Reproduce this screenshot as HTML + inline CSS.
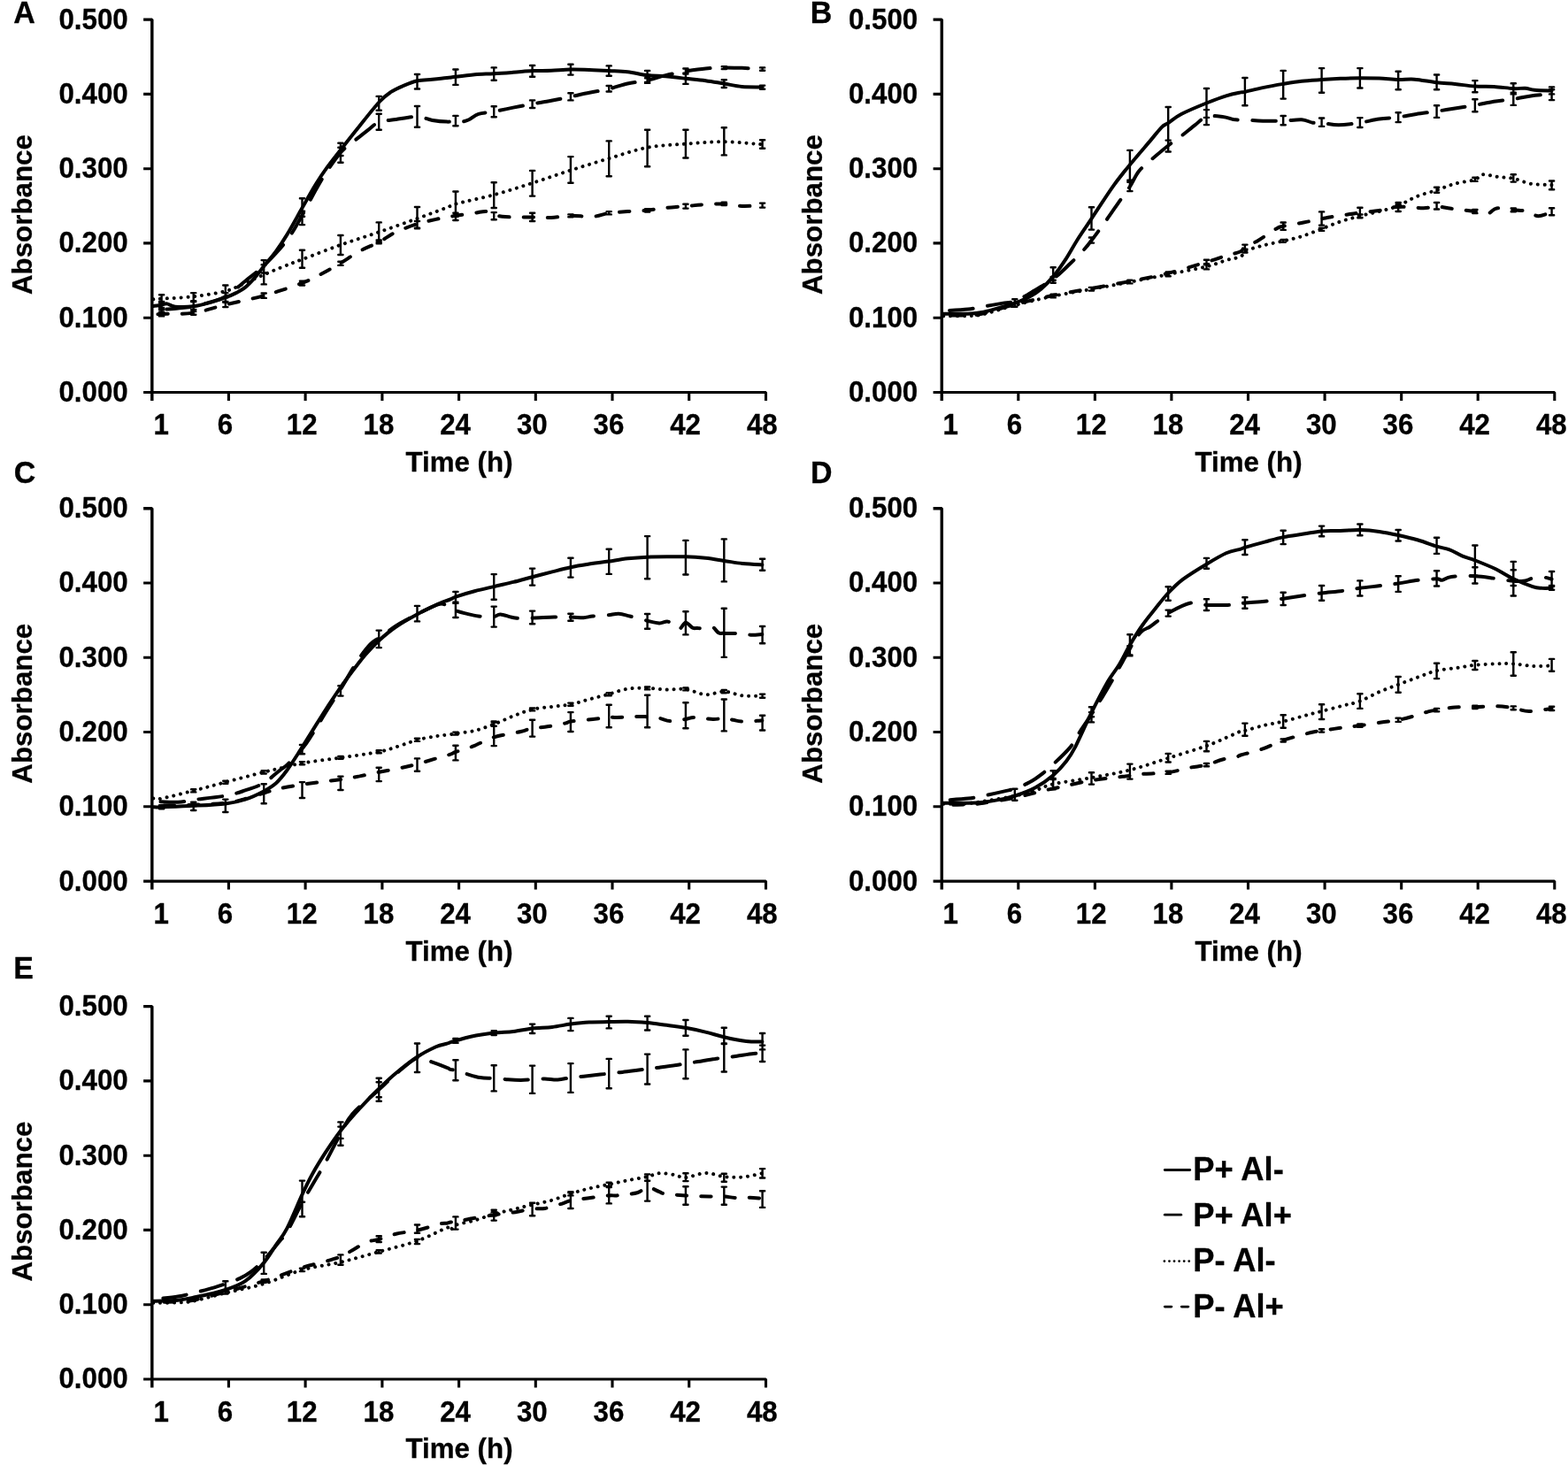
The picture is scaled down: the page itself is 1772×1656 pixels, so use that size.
<!DOCTYPE html>
<html lang="en"><head><meta charset="utf-8"><title>Growth curves</title>
<style>
html,body{margin:0;padding:0;background:#fff}
svg{display:block}
text{font-family:"Liberation Sans",Arial,sans-serif;font-weight:bold;fill:#000;stroke:#000;stroke-width:0.3px}
.ax{fill:none;stroke:#000;stroke-width:3.1;stroke-linejoin:bevel}
.ay{fill:none;stroke:#000;stroke-width:3.45;stroke-linejoin:bevel}
.eb{fill:none;stroke:#000;stroke-width:2.4;stroke-linecap:round}
.ln{fill:none;stroke:#000;stroke-width:4.0;stroke-linecap:round;stroke-linejoin:round}
.lg{fill:none;stroke:#000;stroke-width:2.8;stroke-linecap:round}
.tk text{font-size:31.3px}
.tt{font-size:31.3px}
.pl{font-size:34px}
.lt{font-size:36.7px}
</style></head><body>
<svg width="1772" height="1656" viewBox="0 0 1772 1656">
<rect width="1772" height="1656" fill="#fff"/>
<g transform="translate(0,0)">
<path class="ay" d="M162.1 22.1H171.8V452.9"/>
<path class="ax" d="M162.1 443.5H865.5V452.9"/>
<path class="ax" d="M162.1 106.4H171.8M162.1 190.7H171.8M162.1 274.9H171.8M162.1 359.2H171.8M258.4 443.5V452.9M345.1 443.5V452.9M431.9 443.5V452.9M518.6 443.5V452.9M605.3 443.5V452.9M692 443.5V452.9M778.7 443.5V452.9"/>
<g class="tk" text-anchor="end">
<text transform="translate(144.7,32.5) scale(1,1.05)">0.500</text>
<text transform="translate(144.7,116.8) scale(1,1.05)">0.400</text>
<text transform="translate(144.7,201.1) scale(1,1.05)">0.300</text>
<text transform="translate(144.7,285.3) scale(1,1.05)">0.200</text>
<text transform="translate(144.7,369.6) scale(1,1.05)">0.100</text>
<text transform="translate(144.7,453.9) scale(1,1.05)">0.000</text>
</g>
<g class="tk" text-anchor="middle">
<text transform="translate(182.3,491.1) scale(1,1.045)">1</text>
<text transform="translate(254.5,491.1) scale(1,1.045)">6</text>
<text transform="translate(341.2,491.1) scale(1,1.045)">12</text>
<text transform="translate(427.9,491.1) scale(1,1.045)">18</text>
<text transform="translate(514.6,491.1) scale(1,1.045)">24</text>
<text transform="translate(601.3,491.1) scale(1,1.045)">30</text>
<text transform="translate(687.9,491.1) scale(1,1.045)">36</text>
<text transform="translate(774.6,491.1) scale(1,1.045)">42</text>
<text transform="translate(861.3,491.1) scale(1,1.045)">48</text>
</g>
<text class="tt" text-anchor="middle" transform="translate(519,532.9) scale(1,1.025)">Time (h)</text>
<text class="tt" text-anchor="middle" transform="translate(36.1,242.6) rotate(-90)">Absorbance</text>
<path class="eb" d="M182.6 341V350M180 341H185.2M180 350H185.2M218.7 341V350M216.1 341H221.3M216.1 350H221.3M254.8 331.1V341.8M252.2 331.1H257.4M252.2 341.8H257.4M298.2 294.1V308.5M295.6 294.1H300.8M295.6 308.5H300.8M341.5 224.3V244.8M338.9 224.3H344.1M338.9 244.8H344.1M384.9 161.7V176M382.3 161.7H387.5M382.3 176H387.5M428.2 108.9V124.7M425.6 108.9H430.8M425.6 124.7H430.8M471.5 84V100.5M468.9 84H474.1M468.9 100.5H474.1M514.9 78.5V95.9M512.3 78.5H517.5M512.3 95.9H517.5M558.2 76.4V90.8M555.6 76.4H560.8M555.6 90.8H560.8M601.6 74V86.7M599 74H604.2M599 86.7H604.2M644.9 72.7V84.6M642.3 72.7H647.5M642.3 84.6H647.5M688.2 74.4V85.7M685.6 74.4H690.8M685.6 85.7H690.8M731.6 79.9V92.9M729 79.9H734.2M729 92.9H734.2M774.9 82.6V94.9M772.3 82.6H777.5M772.3 94.9H777.5M818.3 90.2V99M815.7 90.2H820.9M815.7 99H820.9M861.6 96.6V100.7M859 96.6H864.2M859 100.7H864.2M182.6 347.9V352.7M180 347.9H185.2M180 352.7H185.2M341.5 238.7V254.1M338.9 238.7H344.1M338.9 254.1H344.1M384.9 166.8V183.8M382.3 166.8H387.5M382.3 183.8H387.5M428.2 128.8V146.7M425.6 128.8H430.8M425.6 146.7H430.8M471.5 120V143.8M468.9 120H474.1M468.9 143.8H474.1M514.9 130.9V142.2M512.3 130.9H517.5M512.3 142.2H517.5M558.2 120.2V132.3M555.6 120.2H560.8M555.6 132.3H560.8M601.6 113.4V122M599 113.4H604.2M599 122H604.2M644.9 105.2V113.4M642.3 105.2H647.5M642.3 113.4H647.5M688.2 97V103.5M685.6 97H690.8M685.6 103.5H690.8M731.6 88.3V93.9M729 88.3H734.2M729 93.9H734.2M774.9 77.5V83.6M772.3 77.5H777.5M772.3 83.6H777.5M818.3 75.2V78.1M815.7 75.2H820.9M815.7 78.1H820.9M861.6 76.4V79.7M859 76.4H864.2M859 79.7H864.2M182.6 333.2V342.4M180 333.2H185.2M180 342.4H185.2M218.7 331.1V340.3M216.1 331.1H221.3M216.1 340.3H221.3M254.8 322.5V336.2M252.2 322.5H257.4M252.2 336.2H257.4M298.2 299.3V321.4M295.6 299.3H300.8M295.6 321.4H300.8M341.5 282.8V302.8M338.9 282.8H344.1M338.9 302.8H344.1M384.9 266V288M382.3 266H387.5M382.3 288H387.5M428.2 251.4V273.6M425.6 251.4H430.8M425.6 273.6H430.8M471.5 234V258.2M468.9 234H474.1M468.9 258.2H474.1M514.9 216.5V244.8M512.3 216.5H517.5M512.3 244.8H517.5M558.2 206.2V235M555.6 206.2H560.8M555.6 235H560.8M601.6 192.9V221.6M599 192.9H604.2M599 221.6H604.2M644.9 177.1V206.8M642.3 177.1H647.5M642.3 206.8H647.5M688.2 159.4V199.2M685.6 159.4H690.8M685.6 199.2H690.8M731.6 146.7V188.2M729 146.7H734.2M729 188.2H734.2M774.9 146.7V178.5M772.3 146.7H777.5M772.3 178.5H777.5M818.3 144.2V175.4M815.7 144.2H820.9M815.7 175.4H820.9M861.6 158.2V167.8M859 158.2H864.2M859 167.8H864.2M182.6 352.7V357.4M180 352.7H185.2M180 357.4H185.2M218.7 352.1V355.7M216.1 352.1H221.3M216.1 355.7H221.3M254.8 341V347.1M252.2 341H257.4M252.2 347.1H257.4M298.2 331.5V336.9M295.6 331.5H300.8M295.6 336.9H300.8M341.5 317.8V322.5M338.9 317.8H344.1M338.9 322.5H344.1M384.9 295.8V299.9M382.3 295.8H387.5M382.3 299.9H387.5M428.2 271.5V275.2M425.6 271.5H430.8M425.6 275.2H430.8M471.5 250V257.6M468.9 250H474.1M468.9 257.6H474.1M514.9 240.7V249M512.3 240.7H517.5M512.3 249H517.5M558.2 240.1V248.3M555.6 240.1H560.8M555.6 248.3H560.8M601.6 240.7V250M599 240.7H604.2M599 250H604.2M644.9 242.4V245.3M642.3 242.4H647.5M642.3 245.3H647.5M688.2 239.1V242.4M685.6 239.1H690.8M685.6 242.4H690.8M731.6 236.2V239.5M729 236.2H734.2M729 239.5H734.2M774.9 230.7V235.6M772.3 230.7H777.5M772.3 235.6H777.5M818.3 228.8V232.1M815.7 228.8H820.9M815.7 232.1H820.9M861.6 229.6V234.6M859 229.6H864.2M859 234.6H864.2"/>
<path class="ln" stroke-dasharray="0.01 7.84" d="M173.3 338.3C174.9 338.2 175.1 338.2 182.6 337.7C190.1 337.2 206.5 336.6 218.5 335.2C230.6 333.8 245.5 331.4 254.9 329C264.3 326.7 267.8 323.9 275 320.8C282.2 317.8 290.5 313.8 298 310.6C305.5 307.3 312.9 304.2 320.2 301.3C327.5 298.4 330.9 297.2 341.8 293.1C352.6 289 370.9 281.8 385.3 276.7C399.7 271.5 414 267.3 428.4 262.3C442.8 257.3 459 251.5 471.8 246.9C484.5 242.3 497.8 237.3 505 234.6C512.3 231.8 506.3 232.9 515.1 230.5C524 228.1 543.8 224.1 558.3 220.2C572.7 216.3 587.4 211.5 601.8 206.8C616.3 202.2 630.5 197.1 644.9 192.5C659.3 187.8 673.9 183.4 688.3 179.1C702.7 174.8 717 169.5 731.4 166.8C745.8 164.1 760.5 163.8 774.9 162.7C789.4 161.6 803.6 160.1 818.1 160.2C832.5 160.3 854.4 162.8 861.6 163.3"/>
<path class="ln" stroke-dasharray="11.3 16.0" stroke-dashoffset="22.1" d="M173.3 355.7C174.9 355.6 175.1 355.3 182.6 354.9C190.1 354.6 206.5 355.4 218.5 353.7C230.6 351.9 241.6 347.7 254.9 344.5C268.1 341.2 283.5 338.3 298 334.2C312.5 330.1 330.5 324.1 341.8 319.8C353 315.5 358.1 312.3 365.4 308.5C372.6 304.7 378.5 301.3 385.3 297.2C392.1 293.1 399.3 287.8 406.5 283.9C413.6 279.9 421.6 277.2 428.4 273.6C435.3 270 440.3 265.7 447.5 262.3C454.8 258.9 464.2 255.5 471.8 253.1C479.3 250.7 486.5 249.3 492.7 247.9C498.9 246.6 505.4 245.5 509.1 244.8C512.9 244.2 510.5 244.5 515.1 243.8C519.7 243.1 530.7 241.5 536.7 240.7C542.7 239.9 545.9 238.4 551.1 239.1C556.2 239.8 559.1 243.8 567.5 244.8C576 245.9 592.6 245.3 601.8 245.5C611 245.6 615.8 246.1 623 245.9C630.1 245.6 637.1 244 644.9 243.8C652.8 243.6 663 245.4 670.2 244.8C677.4 244.3 681.8 241.7 688.3 240.7C694.8 239.8 702 239.6 709.2 239.1C716.4 238.6 724.2 238.3 731.4 237.7C738.6 237 745.1 235.7 752.3 235C759.6 234.2 768.1 233.7 774.9 233.1C781.8 232.6 786.2 231.9 793.4 231.5C800.6 231 810.5 230.2 818.1 230.5C825.6 230.7 831.4 232.7 838.6 232.9C845.9 233.2 857.8 232.2 861.6 232.1"/>
<path class="ln" stroke-dasharray="26.5 16.7" stroke-dashoffset="28.1" d="M173.3 351.2C174.9 351 178 350.4 182.6 350C187.2 349.6 195.1 349.2 201.1 348.6C207.1 347.9 212.4 347.5 218.5 346.3C224.7 345.1 232 343.2 238 341.4C244.1 339.5 248.4 339.1 254.9 335.2C261.4 331.3 269.9 323.6 277.1 317.8C284.3 311.9 290.1 308 298 300.3C305.9 292.6 317 281.1 324.3 271.5C331.6 262 336.3 252.4 341.8 242.8C347.2 233.2 352.5 222.3 357.2 214C361.8 205.8 364.8 200.5 369.5 193.5C374.2 186.5 380.9 177.1 385.3 171.9C389.8 166.8 391 167 396.2 162.7C401.4 158.4 411.4 150.4 416.7 146.3C422.1 142.2 423.3 139.9 428.4 138C433.6 136.2 440.3 136 447.5 135C454.8 133.9 464.9 131.7 471.8 131.9C478.6 132.1 483.1 135 488.6 136C494.2 136.9 500.6 137.5 505 137.6C509.5 137.8 512.3 137 515.1 137C518 137 519.8 138 522.3 137.6C524.9 137.3 527.5 136.4 530.5 135C533.6 133.5 536.2 130.3 540.8 128.8C545.4 127.3 551.8 127.3 558.3 126.1C564.8 124.9 572.6 123.1 579.8 121.6C587.1 120.2 594.6 118.8 601.8 117.5C609 116.2 615.8 115.2 623 113.8C630.1 112.4 637.7 110.8 644.9 109.3C652.1 107.8 658.9 106.2 666.1 104.8C673.3 103.3 681.1 102.2 688.3 100.5C695.5 98.7 702 96.1 709.2 94.5C716.4 92.9 724.2 92.4 731.4 90.8C738.6 89.2 745.1 86.8 752.3 85.1C759.6 83.3 767.4 81.8 774.9 80.5C782.5 79.3 790.3 78.1 797.5 77.5C804.7 76.8 811.2 76.5 818.1 76.4C824.9 76.3 831.4 76.6 838.6 76.8C845.9 77.1 857.8 77.9 861.6 78.1"/>
<path class="ln" d="M173.3 345.9C174.9 345.7 180 345.1 182.6 344.7C185.2 344.2 186.2 343.1 188.8 343.4C191.3 343.8 193 346.2 198 346.7C203 347.2 211.9 347.1 218.5 346.3C225.2 345.5 232 343.5 238 341.8C244.1 340.1 250.1 338 254.9 336.2C259.7 334.5 263.1 333 266.8 331.1C270.5 329.2 273.6 327.7 277.1 324.9C280.5 322.2 283.8 318.6 287.3 314.7C290.8 310.7 293.9 306.5 298 301.3C302.1 296.2 307.6 289.9 312 283.9C316.4 277.9 319.3 273.6 324.3 265.4C329.3 257.2 336.3 244.2 341.8 234.6C347.2 225 352.5 215.4 357.2 207.9C361.8 200.3 364.8 195.9 369.5 189.4C374.2 182.9 379.1 176.7 385.3 168.9C391.5 161 399.3 151.1 406.5 142.2C413.6 133.3 422.6 121.8 428.4 115.5C434.3 109.1 436.8 107.2 441.4 104.2C445.9 101.1 450.7 99.1 455.7 97C460.8 94.8 466.3 92.4 471.8 91.2C477.2 90 483.1 90.3 488.6 89.8C494.2 89.3 500.6 88.7 505 88.1C509.5 87.6 509.9 87.3 515.1 86.7C520.4 86 529.5 84.8 536.7 84.2C543.9 83.7 551.1 83.6 558.3 83.2C565.5 82.8 572.6 82.3 579.8 81.8C587.1 81.3 594.6 80.5 601.8 80.1C609 79.8 615.8 80 623 79.7C630.1 79.4 637.7 78.6 644.9 78.5C652.1 78.3 658.9 78.7 666.1 78.9C673.3 79.1 681.1 79.5 688.3 79.9C695.5 80.3 702 80.3 709.2 81.2C716.4 82 724.2 84.2 731.4 85.1C738.6 85.9 745.1 85.7 752.3 86.3C759.6 86.9 767.4 87.9 774.9 88.8C782.5 89.6 790.3 90.3 797.5 91.2C804.7 92.2 811.2 93.4 818.1 94.5C824.9 95.6 831.4 97.3 838.6 98C845.9 98.6 857.8 98.3 861.6 98.4"/>
</g>
<g transform="translate(892,0)">
<path class="ay" d="M162.6 22.1H172.3V452.9"/>
<path class="ax" d="M162.6 443.5H864.8V452.9"/>
<path class="ax" d="M162.6 106.4H172.3M162.6 190.7H172.3M162.6 274.9H172.3M162.6 359.2H172.3M258.8 443.5V452.9M345.4 443.5V452.9M431.9 443.5V452.9M518.5 443.5V452.9M605.1 443.5V452.9M691.7 443.5V452.9M778.2 443.5V452.9"/>
<g class="tk" text-anchor="end">
<text transform="translate(145.2,32.5) scale(1,1.05)">0.500</text>
<text transform="translate(145.2,116.8) scale(1,1.05)">0.400</text>
<text transform="translate(145.2,201.1) scale(1,1.05)">0.300</text>
<text transform="translate(145.2,285.3) scale(1,1.05)">0.200</text>
<text transform="translate(145.2,369.6) scale(1,1.05)">0.100</text>
<text transform="translate(145.2,453.9) scale(1,1.05)">0.000</text>
</g>
<g class="tk" text-anchor="middle">
<text transform="translate(182.3,491.1) scale(1,1.045)">1</text>
<text transform="translate(254.5,491.1) scale(1,1.045)">6</text>
<text transform="translate(341.2,491.1) scale(1,1.045)">12</text>
<text transform="translate(427.9,491.1) scale(1,1.045)">18</text>
<text transform="translate(514.6,491.1) scale(1,1.045)">24</text>
<text transform="translate(601.3,491.1) scale(1,1.045)">30</text>
<text transform="translate(687.9,491.1) scale(1,1.045)">36</text>
<text transform="translate(774.6,491.1) scale(1,1.045)">42</text>
<text transform="translate(861.3,491.1) scale(1,1.045)">48</text>
</g>
<text class="tt" text-anchor="middle" transform="translate(519,532.9) scale(1,1.025)">Time (h)</text>
<text class="tt" text-anchor="middle" transform="translate(36.6,242.6) rotate(-90)">Absorbance</text>
<path class="eb" d="M254.8 338.3V346.5M252.2 338.3H257.4M252.2 346.5H257.4M298.2 302.3V319.8M295.6 302.3H300.8M295.6 319.8H300.8M341.5 234.2V259.6M338.9 234.2H344.1M338.9 259.6H344.1M384.9 169.9V203.8M382.3 169.9H387.5M382.3 203.8H387.5M428.2 121V158.6M425.6 121H430.8M425.6 158.6H430.8M471.5 100V132.9M468.9 100H474.1M468.9 132.9H474.1M514.9 88V119.3M512.3 88H517.5M512.3 119.3H517.5M558.2 79.9V111.6M555.6 79.9H560.8M555.6 111.6H560.8M601.6 77.1V104.7M599 77.1H604.2M599 104.7H604.2M644.9 77.1V99.5M642.3 77.1H647.5M642.3 99.5H647.5M688.2 80.7V101.2M685.6 80.7H690.8M685.6 101.2H690.8M731.6 84.5V101.2M729 84.5H734.2M729 101.2H734.2M774.9 91.1V104.3M772.3 91.1H777.5M772.3 104.3H777.5M818.3 94.3V106.4M815.7 94.3H820.9M815.7 106.4H820.9M861.6 98.4V106.4M859 98.4H864.2M859 106.4H864.2M298.2 313V316.7M295.6 313H300.8M295.6 316.7H300.8M341.5 268.5V274.6M338.9 268.5H344.1M338.9 274.6H344.1M384.9 205.8V216.1M382.3 205.8H387.5M382.3 216.1H387.5M428.2 158.6V171.5M425.6 158.6H430.8M425.6 171.5H430.8M471.5 124.1V141.1M468.9 124.1H474.1M468.9 141.1H474.1M558.2 131V141.3M555.6 131H560.8M555.6 141.3H560.8M601.6 133.5V142.9M599 133.5H604.2M599 142.9H604.2M644.9 133.1V144M642.3 133.1H647.5M642.3 144H647.5M688.2 127.3V138.1M685.6 127.3H690.8M685.6 138.1H690.8M731.6 119.3V132.9M729 119.3H734.2M729 132.9H734.2M774.9 112.2V126.2M772.3 112.2H777.5M772.3 126.2H777.5M818.3 104.7V118.9M815.7 104.7H820.9M815.7 118.9H820.9M861.6 101.2V113.1M859 101.2H864.2M859 113.1H864.2M254.8 343V346.7M252.2 343H257.4M252.2 346.7H257.4M298.2 332.7V336.4M295.6 332.7H300.8M295.6 336.4H300.8M341.5 324.9V328.6M338.9 324.9H344.1M338.9 328.6H344.1M384.9 316.7V320.4M382.3 316.7H387.5M382.3 320.4H387.5M428.2 307.5V312.2M425.6 307.5H430.8M425.6 312.2H430.8M471.5 299.3V304.4M468.9 299.3H474.1M468.9 304.4H474.1M514.9 281.8V285.5M512.3 281.8H517.5M512.3 285.5H517.5M558.2 270.9V273.8M555.6 270.9H560.8M555.6 273.8H560.8M601.6 257.8V260.9M599 257.8H604.2M599 260.9H604.2M644.9 242.5V245.9M642.3 242.5H647.5M642.3 245.9H647.5M688.2 231.2V234.2M685.6 231.2H690.8M685.6 234.2H690.8M731.6 211.8V217.7M729 211.8H734.2M729 217.7H734.2M774.9 200.8V204.9M772.3 200.8H777.5M772.3 204.9H777.5M818.3 197.2V205.6M815.7 197.2H820.9M815.7 205.6H820.9M861.6 204.5V214.3M859 204.5H864.2M859 214.3H864.2M471.5 293.7V298.2M468.9 293.7H474.1M468.9 298.2H474.1M514.9 276.6V281.8M512.3 276.6H517.5M512.3 281.8H517.5M558.2 251.5V259.9M555.6 251.5H560.8M555.6 259.9H560.8M601.6 239.4V254.6M599 239.4H604.2M599 254.6H604.2M644.9 234.8V246.3M642.3 234.8H647.5M642.3 246.3H647.5M688.2 229V239M685.6 229H690.8M685.6 239H690.8M731.6 229V236.5M729 229H734.2M729 236.5H734.2M774.9 236.9V241.1M772.3 236.9H777.5M772.3 241.1H777.5M818.3 235.4V239.2M815.7 235.4H820.9M815.7 239.2H820.9M861.6 235.2V243.2M859 235.2H864.2M859 243.2H864.2"/>
<path class="ln" stroke-dasharray="0.01 7.84" d="M174.3 357.2C179 357.2 194.5 357.5 202.1 357.2C209.6 356.8 210.6 357.2 219.5 355.1C228.4 353.1 242.2 348.3 255.5 344.9C268.7 341.4 284.6 337.6 299 334.6C313.4 331.6 327.4 329.4 341.7 326.8C356 324.2 370.5 321.6 384.9 318.8C399.2 316 413.6 313.1 428 310.2C442.4 307.2 460.6 304 471.5 301.3C482.5 298.7 487.3 296 493.7 294.1C500.2 292.3 506.6 291.7 510.1 290C513.7 288.3 510.7 285.9 514.9 283.9C519.1 281.8 527.9 279.5 535.1 277.6C542.3 275.7 550.8 274.1 558.1 272.4C565.4 270.6 571.8 269.4 579 267.2C586.2 264.9 594 261.6 601.3 258.8C608.6 256 615.6 252.9 622.8 250.5C630.1 248 637.5 246.1 644.8 244.2C652.1 242.3 659.5 240.9 666.7 239C673.9 237.1 681 235.5 688 232.7C695 229.9 701.2 225.2 708.5 222.3C715.7 219.3 724.1 217.4 731.4 215C738.7 212.5 745.1 209.6 752.3 207.7C759.5 205.7 769.4 204.8 774.7 203.1C779.9 201.3 779.4 197.7 783.6 197.2C787.9 196.7 794.5 199.2 800.3 199.9C806.1 200.7 812.2 200.5 818.5 201.8C824.8 203.1 830.8 206.4 837.9 207.7C845.1 208.9 857.6 208.9 861.5 209.1"/>
<path class="ln" stroke-dasharray="11.3 16.0" stroke-dashoffset="17.4" d="M174.3 356.4C179 356.4 194.5 356.7 202.1 356.4C209.6 356 210.6 356.4 219.5 354.3C228.4 352.3 242.2 347.5 255.5 344C268.7 340.6 284.6 336.8 299 333.8C313.4 330.8 327.4 328.6 341.7 326C356 323.3 370.5 320.8 384.9 318C399.2 315.1 413.6 312.6 428 308.9C442.4 305.3 460.6 299.5 471.5 296.2C482.5 292.9 487.3 291 493.7 289C500.2 287 506.6 286 510.1 284.3C513.7 282.6 511.8 280.6 514.9 278.6C518 276.7 523.1 275.7 528.9 272.4C534.7 269.1 544.9 261.6 549.8 258.8C554.6 256 552.9 256.9 558.1 255.7C563.3 254.5 573.9 252.9 581.1 251.5C588.3 250.1 596.1 248.4 601.3 247.3C606.6 246.3 607.1 246.1 612.4 245.2C617.7 244.4 627.9 242.9 633.3 242.1C638.7 241.3 639.2 241.1 644.8 240.4C650.3 239.7 659.5 239 666.7 237.9C673.9 236.8 679.6 234.2 688 233.8C696.3 233.3 709.6 235.3 716.8 235.2C724.1 235.1 726.2 233.2 731.4 233.3C736.6 233.4 740.9 234.9 748.1 235.8C755.3 236.8 767.7 238.1 774.7 239C781.6 239.8 785.8 241.7 789.9 241.1C794 240.5 794.5 236.1 799.3 235.4C804.1 234.8 812.8 236.7 818.5 237.3C824.2 237.9 829.1 237.8 833.7 239C838.4 240.1 841.6 244.1 846.3 244.2C850.9 244.3 859 240.2 861.5 239.4"/>
<path class="ln" stroke-dasharray="26.5 16.7" stroke-dashoffset="36.3" d="M174.3 351.2C179 351 194.5 350.4 202.1 349.6C209.6 348.8 212.7 347.7 219.5 346.5C226.4 345.3 237.2 343.4 243.2 342.4C249.1 341.4 250 342.6 255.5 340.3C261 338.1 268.8 333.3 276 329C283.3 324.8 292.2 319.8 299 314.7C305.9 309.5 311.7 303.4 317.1 298.2C322.5 293.1 327.4 288.3 331.5 283.9C335.6 279.4 337.3 277.4 341.7 271.5C346.2 265.7 353 256.1 358.2 249C363.3 241.8 368.1 234.7 372.5 228.4C377 222.1 381.1 216.8 384.9 211C388.6 205.1 391 198.6 395.1 193.5C399.2 188.4 404 184.9 409.5 180.1C415 175.4 422.3 169.2 428 164.7C433.6 160.3 438.3 157.4 443.4 153.4C448.5 149.5 454.1 144.7 458.8 141.1C463.5 137.5 466.4 133.4 471.5 131.9C476.7 130.3 484.5 131.4 489.6 131.9C494.7 132.4 498.5 134.3 501.9 135C505.4 135.6 508 135.5 510.1 135.6C512.3 135.7 510.7 135.4 514.9 135.6C519.1 135.8 527.9 136.5 535.1 136.7C542.3 136.8 550.8 136.9 558.1 136.7C565.4 136.4 573.4 134.8 579 135.2C584.6 135.5 587.8 138.2 591.5 138.7C595.2 139.3 596.5 138.3 601.3 138.7C606.2 139.2 613.5 141.3 620.8 141.3C628 141.3 637.1 139.9 644.8 138.7C652.4 137.6 659.5 135.6 666.7 134.6C673.9 133.5 681 133.4 688 132.5C695 131.5 701.2 130 708.5 128.9C715.7 127.8 724.1 126.9 731.4 125.8C738.7 124.7 745.1 123.6 752.3 122.5C759.5 121.3 767.3 120.2 774.7 118.9C782 117.6 788.9 115.9 796.2 114.7C803.5 113.6 811.5 113.1 818.5 112C825.5 111 830.8 109.4 837.9 108.5C845.1 107.5 857.6 106.7 861.5 106.4"/>
<path class="ln" d="M174.3 354.7C179 354.7 194.5 355.1 202.1 354.7C209.6 354.4 213.4 353.9 219.5 352.7C225.7 351.5 233.1 349.2 239 347.5C245 345.8 250 344.5 255.5 342.4C261 340.3 267.1 337.8 271.9 335.2C276.7 332.6 279.7 330.9 284.2 327C288.7 323.1 294.2 317.4 299 311.6C303.8 305.8 308.6 298.8 313 292.1C317.4 285.4 320.5 279.1 325.3 271.5C330.1 264 334.9 257.2 341.7 246.9C348.6 236.6 359.2 220 366.4 209.9C373.6 199.8 378 194.7 384.9 186.3C391.7 177.9 401.5 166.7 407.5 159.6C413.4 152.5 417.4 147.2 420.8 143.8C424.2 140.4 424.2 141.6 428 139.1C431.8 136.6 436.1 132.6 443.4 128.8C450.7 125 463.1 119.9 471.5 116.5C479.9 113.1 487.3 110.3 493.7 108.3C500.2 106.2 506.6 105.1 510.1 104.4C513.7 103.6 510.7 104.8 514.9 103.9C519.1 103 527.9 100.6 535.1 99.1C542.3 97.6 550.8 96.1 558.1 94.9C565.4 93.7 571.8 92.6 579 91.8C586.2 91 594 90.6 601.3 90.1C608.6 89.6 615.6 89.2 622.8 88.8C630.1 88.5 637.5 88.2 644.8 88.2C652.1 88.2 659.5 88.3 666.7 88.6C673.9 88.9 681.4 89.9 688 90.1C694.6 90.3 699.1 89.2 706.4 89.7C713.6 90.2 723.8 92.4 731.4 93.2C739.1 94.1 745.1 94.2 752.3 94.9C759.5 95.6 767.3 97.1 774.7 97.6C782 98.1 788.9 97.6 796.2 98C803.5 98.4 812.6 99.8 818.5 100.1C824.4 100.4 827.7 99.4 831.7 99.7C835.6 100 837.1 101.3 842.1 101.8C847.1 102.3 858.3 102.5 861.5 102.6"/>
</g>
<g transform="translate(0,552.6)">
<path class="ay" d="M162.1 22.1H171.8V452.9"/>
<path class="ax" d="M162.1 443.5H865.5V452.9"/>
<path class="ax" d="M162.1 106.4H171.8M162.1 190.7H171.8M162.1 274.9H171.8M162.1 359.2H171.8M258.4 443.5V452.9M345.1 443.5V452.9M431.9 443.5V452.9M518.6 443.5V452.9M605.3 443.5V452.9M692 443.5V452.9M778.7 443.5V452.9"/>
<g class="tk" text-anchor="end">
<text transform="translate(144.7,32.5) scale(1,1.05)">0.500</text>
<text transform="translate(144.7,116.8) scale(1,1.05)">0.400</text>
<text transform="translate(144.7,201.1) scale(1,1.05)">0.300</text>
<text transform="translate(144.7,285.3) scale(1,1.05)">0.200</text>
<text transform="translate(144.7,369.6) scale(1,1.05)">0.100</text>
<text transform="translate(144.7,453.9) scale(1,1.05)">0.000</text>
</g>
<g class="tk" text-anchor="middle">
<text transform="translate(182.3,491.1) scale(1,1.045)">1</text>
<text transform="translate(254.5,491.1) scale(1,1.045)">6</text>
<text transform="translate(341.2,491.1) scale(1,1.045)">12</text>
<text transform="translate(427.9,491.1) scale(1,1.045)">18</text>
<text transform="translate(514.6,491.1) scale(1,1.045)">24</text>
<text transform="translate(601.3,491.1) scale(1,1.045)">30</text>
<text transform="translate(687.9,491.1) scale(1,1.045)">36</text>
<text transform="translate(774.6,491.1) scale(1,1.045)">42</text>
<text transform="translate(861.3,491.1) scale(1,1.045)">48</text>
</g>
<text class="tt" text-anchor="middle" transform="translate(519,532.9) scale(1,1.025)">Time (h)</text>
<text class="tt" text-anchor="middle" transform="translate(36.1,242.6) rotate(-90)">Absorbance</text>
<path class="eb" d="M182.6 357.6V361.7M180 357.6H185.2M180 361.7H185.2M218.7 354.1V363.4M216.1 354.1H221.3M216.1 363.4H221.3M254.8 351V365.4M252.2 351H257.4M252.2 365.4H257.4M341.5 289.4V299.7M338.9 289.4H344.1M338.9 299.7H344.1M384.9 222.7V234M382.3 222.7H387.5M382.3 234H387.5M428.2 160V179.5M425.6 160H430.8M425.6 179.5H430.8M471.5 132.3V149.8M468.9 132.3H474.1M468.9 149.8H474.1M514.9 116.3V128.2M512.3 116.3H517.5M512.3 128.2H517.5M558.2 96.5V125.1M555.6 96.5H560.8M555.6 125.1H560.8M601.6 90V109M599 90H604.2M599 109H604.2M644.9 78.1V100M642.3 78.1H647.5M642.3 100H647.5M688.2 68.1V96.3M685.6 68.1H690.8M685.6 96.3H690.8M731.6 53.5V101.7M729 53.5H734.2M729 101.7H734.2M774.9 58.3V96.9M772.3 58.3H777.5M772.3 96.9H777.5M818.3 56.8V104.8M815.7 56.8H820.9M815.7 104.8H820.9M861.6 79.2V92.1M859 79.2H864.2M859 92.1H864.2M514.9 129.3V145.4M512.3 129.3H517.5M512.3 145.4H517.5M558.2 133V156M555.6 133H560.8M555.6 156H560.8M601.6 138V152.7M599 138H604.2M599 152.7H604.2M644.9 141.2V149.1M642.3 141.2H647.5M642.3 149.1H647.5M731.6 141.4V158.1M729 141.4H734.2M729 158.1H734.2M774.9 138.7V164.8M772.3 138.7H777.5M772.3 164.8H777.5M818.3 135.1V190.3M815.7 135.1H820.9M815.7 190.3H820.9M861.6 155.4V174.6M859 155.4H864.2M859 174.6H864.2M218.7 339.7V342.8M216.1 339.7H221.3M216.1 342.8H221.3M254.8 330.1V333.2M252.2 330.1H257.4M252.2 333.2H257.4M298.2 318.6V321.9M295.6 318.6H300.8M295.6 321.9H300.8M341.5 308.5V311.6M338.9 308.5H344.1M338.9 311.6H344.1M384.9 302.4V305.2M382.3 302.4H387.5M382.3 305.2H387.5M428.2 295.6V298.7M425.6 295.6H430.8M425.6 298.7H430.8M471.5 282.2V285.3M468.9 282.2H474.1M468.9 285.3H474.1M514.9 275V278M512.3 275H517.5M512.3 278H517.5M558.2 262.9V268.1M555.6 262.9H560.8M555.6 268.1H560.8M601.6 247.9V250.8M599 247.9H604.2M599 250.8H604.2M644.9 242V245.2M642.3 242H647.5M642.3 245.2H647.5M688.2 230.6V233.7M685.6 230.6H690.8M685.6 233.7H690.8M731.6 223.9V226.8M729 223.9H734.2M729 226.8H734.2M774.9 224.9V227.8M772.3 224.9H777.5M772.3 227.8H777.5M818.3 227.4V230.6M815.7 227.4H820.9M815.7 230.6H820.9M861.6 232V236.2M859 232H864.2M859 236.2H864.2M298.2 333.6V355.6M295.6 333.6H300.8M295.6 355.6H300.8M341.5 331.5V349.4M338.9 331.5H344.1M338.9 349.4H344.1M384.9 325V340.4M382.3 325H387.5M382.3 340.4H387.5M428.2 315.1V330.5M425.6 315.1H430.8M425.6 330.5H430.8M471.5 304.8V319.2M468.9 304.8H474.1M468.9 319.2H474.1M514.9 290.1V306.8M512.3 290.1H517.5M512.3 306.8H517.5M558.2 264V290.5M555.6 264H560.8M555.6 290.5H560.8M601.6 261.2V280M599 261.2H604.2M599 280H604.2M644.9 252.5V274.4M642.3 252.5H647.5M642.3 274.4H647.5M688.2 244.1V269.6M685.6 244.1H690.8M685.6 269.6H690.8M731.6 233.1V269.6M729 233.1H734.2M729 269.6H734.2M774.9 241.6V270.6M772.3 241.6H777.5M772.3 270.6H777.5M818.3 237.9V273.8M815.7 237.9H820.9M815.7 273.8H820.9M861.6 256.2V272.9M859 256.2H864.2M859 272.9H864.2"/>
<path class="ln" stroke-dasharray="0.01 7.84" d="M173.3 350C174.9 350 175.1 351.5 182.6 350C190.1 348.5 206.5 344.3 218.5 341.2C230.6 338.1 241.6 335 254.9 331.5C268.1 328 287.1 323 298 320.2C308.9 317.5 312.9 316.8 320.2 315.1C327.5 313.4 330.9 311.8 341.8 310C352.6 308.1 370.9 305.9 385.3 303.8C399.7 301.7 417.4 299.5 428.4 297.2C439.5 295 444.4 292.7 451.6 290.5C458.9 288.2 464.9 285.5 471.8 283.7C478.6 281.9 486.5 280.6 492.7 279.6C498.9 278.5 505.4 278 509.1 277.5C512.9 277 510.5 277.2 515 276.5C519.6 275.8 529.1 275.1 536.3 273.4C543.5 271.6 550.9 268.8 558.2 266C565.6 263.3 573 259.4 580.2 256.7C587.4 253.9 594.2 251.1 601.5 249.3C608.8 247.6 616.8 247.2 624 246.2C631.3 245.3 637.9 245.1 644.9 243.7C651.9 242.3 658.6 239.8 665.8 237.9C673 235.9 680.8 234 688.1 232C695.4 230 702.4 227.1 709.6 226C716.9 224.8 724.3 225.2 731.6 225.3C738.9 225.5 746.3 226.8 753.5 227C760.7 227.2 767.5 225.4 774.8 226.4C782.1 227.3 790.1 232.2 797.3 232.6C804.6 233.1 811.3 228.9 818.2 229.1C825.2 229.3 831.9 232.8 839.1 233.7C846.3 234.5 857.7 234 861.4 234.1"/>
<path class="ln" stroke-dasharray="11.3 16.0" stroke-dashoffset="14.8" d="M173.3 358.2C180.9 358.1 204.9 357.7 218.5 357.2C232.1 356.7 245.5 356.2 254.9 355.1C264.3 354.1 267.8 352.9 275 351C282.2 349.2 291.2 345.9 298 343.9C304.9 341.8 308.8 340.3 316.1 338.7C323.4 337.1 333.5 335.5 341.8 334.2C350 332.9 358.1 331.9 365.4 330.9C372.6 330 378.5 329.5 385.3 328.4C392.1 327.4 399.3 326.1 406.5 324.8C413.6 323.4 420.9 321.7 428.4 320.2C436 318.7 444.4 317.3 451.6 315.7C458.9 314.2 464.9 312.8 471.8 311C478.6 309.2 486.5 306.6 492.7 304.8C498.9 303 505.4 301.3 509.1 300.1C512.9 298.9 510.8 298.9 515 297.4C519.2 295.9 527 293.9 534.2 291.1C541.4 288.3 549.2 283.4 558.2 280.7C567.3 277.9 581.3 276.1 588.5 274.4C595.7 272.7 596.9 271.1 601.5 270.2C606 269.4 609.5 270.1 615.7 269.2C621.9 268.3 633.8 266 638.6 265C643.5 264 639.7 263.7 644.9 262.9C650.1 262.2 662.8 261.2 670 260.4C677.2 259.6 683.6 258.7 688.1 258.3C692.7 258 691.1 258.5 697.1 258.3C703.1 258.1 718.5 257.4 724.3 257.3C730 257.2 728.1 257.4 731.6 257.7C735 258 740.8 258.4 745.1 259.2C749.5 260 752.7 262.3 757.7 262.5C762.6 262.7 770.3 261.1 774.8 260.4C779.3 259.7 779.7 258.3 784.8 258.3C790 258.3 800.1 260.3 805.7 260.4C811.3 260.6 814.4 259 818.2 259.2C822 259.3 825.2 260.6 828.7 261.2C832.1 261.9 833.6 262.8 839.1 262.9C844.6 263 857.7 262 861.4 261.9"/>
<path class="ln" stroke-dasharray="26.5 16.7" stroke-dashoffset="34.8" d="M173.3 353.1C178 353.3 193.5 354.4 201.1 354.1C208.6 353.8 209.6 352.6 218.5 351.5C227.5 350.3 245.1 348.7 254.9 346.9C264.6 345.2 269.9 343.2 277.1 340.8C284.3 338.4 291.5 336.3 298 332.6C304.5 328.8 311.7 321.6 316.1 318.2C320.5 314.8 320 316.1 324.3 312C328.6 307.9 337 299.4 341.8 293.5C346.6 287.7 348.4 284.3 353.1 277.1C357.7 269.9 364.1 259 369.5 250.4C374.9 241.8 380.9 232.9 385.3 225.8C389.8 218.6 392.7 213.1 396.2 207.3C399.7 201.5 402.7 196.1 406.5 190.8C410.2 185.5 415.1 179.2 418.8 175.4C422.4 171.7 423.6 171.7 428.4 168.3C433.2 164.8 442 158.5 447.5 154.9C453.1 151.3 457.9 148.9 461.9 146.7C465.9 144.5 465.9 144.3 471.8 141.6C477.6 138.8 490.9 131.6 496.8 130.3C502.7 129 504.1 132.5 507.1 133.7C510.1 135 511.9 136.5 515 137.6C518.2 138.8 521.6 139.7 525.9 140.8C530.1 141.8 535.1 143.3 540.5 143.9C545.9 144.5 554.1 144.7 558.2 144.3C562.4 144 561.6 141.5 565.6 141.8C569.6 142.1 576.3 145.3 582.3 146C588.2 146.7 594.2 146.2 601.5 146C608.8 145.8 618.9 145.1 626.1 144.9C633.3 144.8 639.3 144.8 644.9 144.9C650.5 145 655.3 145.7 659.5 145.6C663.7 145.4 665.4 144.3 670 143.9C674.5 143.4 681.8 143.3 686.7 142.8C691.5 142.4 695 141 699.2 141.2C703.4 141.4 706.3 142.6 711.7 143.9C717.1 145.2 726 147.8 731.6 149.1C737.1 150.4 741.1 151.7 745.1 151.8C749.1 152 751.9 149 755.6 150.2C759.2 151.3 763.9 158.3 767.1 158.5C770.3 158.7 772.2 151.4 774.8 151.2C777.4 151 780.4 156 782.7 157C785.1 158.1 786 157.2 789 157.5C791.9 157.7 797.7 158.7 800.5 158.5C803.3 158.3 803.8 155.7 805.7 156.4C807.6 157.1 809.9 161.5 812 162.7C814 163.8 813.7 163.1 818.2 163.3C822.7 163.5 833.9 163.4 839.1 163.7C844.3 164 845.8 165.1 849.5 165.2C853.3 165.3 859.5 164.5 861.4 164.4"/>
<path class="ln" d="M173.3 359.7C174.9 359.7 175.1 359.9 182.6 359.7C190.1 359.4 206.5 358.9 218.5 358.2C230.6 357.6 245.1 357 254.9 355.8C264.6 354.6 269.9 353.4 277.1 351C284.3 348.7 292.2 344.9 298 341.8C303.8 338.7 307.6 336.5 312 332.6C316.4 328.6 319.3 325 324.3 318.2C329.3 311.3 336.3 300 341.8 291.5C347.2 282.9 352.2 274.7 357.2 266.8C362.1 259 366.9 251.4 371.5 244.2C376.2 237.1 380.9 230 385.3 223.7C389.8 217.4 393.7 212.2 398.2 206.2C402.8 200.3 407.6 193.6 412.6 187.8C417.7 181.9 422.6 176.6 428.4 171.3C434.3 166 440.3 160.9 447.5 155.9C454.8 151 464.2 145.7 471.8 141.6C479.3 137.4 486.5 134.1 492.7 131.3C498.9 128.5 505.4 126.3 509.1 124.7C512.9 123.2 510.5 123.5 515 122C519.6 120.5 529.1 117.6 536.3 115.7C543.5 113.8 550.9 112.2 558.2 110.5C565.6 108.7 573 107.1 580.2 105.3C587.4 103.5 594.2 101.5 601.5 99.6C608.8 97.7 616.8 95.6 624 93.8C631.3 91.9 637.9 90 644.9 88.6C651.9 87.1 658.6 86.1 665.8 85C673 83.9 680.8 82.9 688.1 81.9C695.4 80.8 702.4 79.5 709.6 78.7C716.9 77.9 724.3 77.4 731.6 77.1C738.9 76.7 746.3 76.7 753.5 76.7C760.7 76.6 767.5 76.4 774.8 76.7C782.1 76.9 790.1 77.4 797.3 78.1C804.6 78.9 811.3 80.2 818.2 81.3C825.2 82.3 831.9 83.6 839.1 84.4C846.3 85.1 857.7 85.6 861.4 85.8"/>
</g>
<g transform="translate(892,552.6)">
<path class="ay" d="M162.6 22.1H172.3V452.9"/>
<path class="ax" d="M162.6 443.5H864.8V452.9"/>
<path class="ax" d="M162.6 106.4H172.3M162.6 190.7H172.3M162.6 274.9H172.3M162.6 359.2H172.3M258.8 443.5V452.9M345.4 443.5V452.9M431.9 443.5V452.9M518.5 443.5V452.9M605.1 443.5V452.9M691.7 443.5V452.9M778.2 443.5V452.9"/>
<g class="tk" text-anchor="end">
<text transform="translate(145.2,32.5) scale(1,1.05)">0.500</text>
<text transform="translate(145.2,116.8) scale(1,1.05)">0.400</text>
<text transform="translate(145.2,201.1) scale(1,1.05)">0.300</text>
<text transform="translate(145.2,285.3) scale(1,1.05)">0.200</text>
<text transform="translate(145.2,369.6) scale(1,1.05)">0.100</text>
<text transform="translate(145.2,453.9) scale(1,1.05)">0.000</text>
</g>
<g class="tk" text-anchor="middle">
<text transform="translate(182.3,491.1) scale(1,1.045)">1</text>
<text transform="translate(254.5,491.1) scale(1,1.045)">6</text>
<text transform="translate(341.2,491.1) scale(1,1.045)">12</text>
<text transform="translate(427.9,491.1) scale(1,1.045)">18</text>
<text transform="translate(514.6,491.1) scale(1,1.045)">24</text>
<text transform="translate(601.3,491.1) scale(1,1.045)">30</text>
<text transform="translate(687.9,491.1) scale(1,1.045)">36</text>
<text transform="translate(774.6,491.1) scale(1,1.045)">42</text>
<text transform="translate(861.3,491.1) scale(1,1.045)">48</text>
</g>
<text class="tt" text-anchor="middle" transform="translate(519,532.9) scale(1,1.025)">Time (h)</text>
<text class="tt" text-anchor="middle" transform="translate(36.6,242.6) rotate(-90)">Absorbance</text>
<path class="eb" d="M298.2 318.6V327.4M295.6 318.6H300.8M295.6 327.4H300.8M341.5 246.7V257.6M338.9 246.7H344.1M338.9 257.6H344.1M384.9 164.6V187.8M382.3 164.6H387.5M382.3 187.8H387.5M428.2 110.7V126.1M425.6 110.7H430.8M425.6 126.1H430.8M471.5 78.3V90.2M468.9 78.3H474.1M468.9 90.2H474.1M514.9 57.7V74.4M512.3 57.7H517.5M512.3 74.4H517.5M558.2 47.2V62.5M555.6 47.2H560.8M555.6 62.5H560.8M601.6 42V53.7M599 42H604.2M599 53.7H604.2M644.9 39.9V52.6M642.3 39.9H647.5M642.3 52.6H647.5M688.2 46.4V58.9M685.6 46.4H690.8M685.6 58.9H690.8M731.6 55.1V73.3M729 55.1H734.2M729 73.3H734.2M774.9 63.9V98M772.3 63.9H777.5M772.3 98H777.5M818.3 82.3V120.9M815.7 82.3H820.9M815.7 120.9H820.9M861.6 110.1V114.2M859 110.1H864.2M859 114.2H864.2M341.5 252.5V263.8M338.9 252.5H344.1M338.9 263.8H344.1M384.9 177.5V188.8M382.3 177.5H387.5M382.3 188.8H387.5M428.2 137V144M425.6 137H430.8M425.6 144H430.8M471.5 124.7V137.4M468.9 124.7H474.1M468.9 137.4H474.1M514.9 122.6V135.1M512.3 122.6H517.5M512.3 135.1H517.5M558.2 117.2V131.4M555.6 117.2H560.8M555.6 131.4H560.8M601.6 109.4V126.1M599 109.4H604.2M599 126.1H604.2M644.9 103.8V120.9M642.3 103.8H647.5M642.3 120.9H647.5M688.2 98.6V116.3M685.6 98.6H690.8M685.6 116.3H690.8M731.6 92.7V109.9M729 92.7H734.2M729 109.9H734.2M774.9 88.6V106.9M772.3 88.6H777.5M772.3 106.9H777.5M818.3 91.7V109.4M815.7 91.7H820.9M815.7 109.4H820.9M861.6 93.4V109.4M859 93.4H864.2M859 109.4H864.2M254.8 339.1V352.1M252.2 339.1H257.4M252.2 352.1H257.4M298.2 328.4V339.7M295.6 328.4H300.8M295.6 339.7H300.8M341.5 320.6V334M338.9 320.6H344.1M338.9 334H344.1M384.9 311V328M382.3 311H387.5M382.3 328H387.5M428.2 299.3V308.9M425.6 299.3H430.8M425.6 308.9H430.8M471.5 285.3V296.6M468.9 285.3H474.1M468.9 296.6H474.1M514.9 265V279.2M512.3 265H517.5M512.3 279.2H517.5M558.2 255.6V270.2M555.6 255.6H560.8M555.6 270.2H560.8M601.6 243.7V260.4M599 243.7H604.2M599 260.4H604.2M644.9 231.6V248.3M642.3 231.6H647.5M642.3 248.3H647.5M688.2 212.4V230.1M685.6 212.4H690.8M685.6 230.1H690.8M731.6 197.1V214.5M729 197.1H734.2M729 214.5H734.2M774.9 194.4V204.4M772.3 194.4H777.5M772.3 204.4H777.5M818.3 184.6V211.1M815.7 184.6H820.9M815.7 211.1H820.9M861.6 192.3V206.1M859 192.3H864.2M859 206.1H864.2M428.2 319.2V322.3M425.6 319.2H430.8M425.6 322.3H430.8M471.5 310.4V313.7M468.9 310.4H474.1M468.9 313.7H474.1M558.2 282.8V285.9M555.6 282.8H560.8M555.6 285.9H560.8M601.6 271.7V275M599 271.7H604.2M599 275H604.2M644.9 265.8V269.2M642.3 265.8H647.5M642.3 269.2H647.5M688.2 259.2V263.3M685.6 259.2H690.8M685.6 263.3H690.8M731.6 248.3V251.6M729 248.3H734.2M729 251.6H734.2M774.9 245.2V248.5M772.3 245.2H777.5M772.3 248.5H777.5M818.3 245.8V249.6M815.7 245.8H820.9M815.7 249.6H820.9M861.6 246.2V250.4M859 246.2H864.2M859 250.4H864.2"/>
<path class="ln" stroke-dasharray="0.01 7.84" d="M174.3 356.2C179 356.1 194.5 356.1 202.1 355.6C209.6 355 210.6 354.5 219.5 353.1C228.4 351.7 245.7 349 255.5 346.9C265.2 344.9 270.9 343 278.1 340.8C285.3 338.5 288 336 298.6 333.6C309.2 331.2 327.4 329 341.7 326.4C356.1 323.8 370.5 321.4 384.9 317.8C399.2 314.1 413.6 309 428 304.4C442.4 299.9 460.6 294.3 471.5 290.5C482.5 286.6 487.3 283.9 493.7 281.2C500.2 278.5 506.6 275.3 510.1 274C513.7 272.7 510.2 274.5 514.8 273.4C519.3 272.2 530.1 268.8 537.3 267.1C544.6 265.4 550.9 264.7 558.2 262.9C565.5 261.2 574 258.6 581.2 256.7C588.4 254.7 594.1 253.3 601.4 251.4C608.7 249.5 617.8 247.1 625 245.2C632.3 243.3 637.9 242.6 644.9 239.9C651.8 237.3 659.5 232.6 666.8 229.5C674 226.4 681 223.9 688.3 221.2C695.6 218.4 703.4 215.4 710.6 212.8C717.8 210.2 724.2 207.2 731.5 205.5C738.8 203.8 747.2 203.4 754.5 202.4C761.7 201.3 767.6 200 774.9 199.2C782.3 198.5 791.1 198 798.3 197.8C805.5 197.5 811.2 197.3 818.2 197.8C825.1 198.2 832.9 199.9 840.1 200.3C847.3 200.6 858 199.9 861.6 199.9"/>
<path class="ln" stroke-dasharray="11.3 16.0" stroke-dashoffset="16.4" d="M174.3 357.2C179 357.1 194.5 357.1 202.1 356.8C209.6 356.4 210.6 356.4 219.5 355.1C228.4 353.8 244.7 351.2 255.5 349C266.3 346.8 277 343.5 284.2 341.8C291.4 340.1 293.1 339.9 298.6 338.7C304.1 337.5 309.9 336.2 317.1 334.6C324.3 333.1 333.5 330.8 341.7 329.5C350 328.1 359.2 327.3 366.4 326.4C373.6 325.5 379.4 325 384.9 324.3C390.3 323.7 392.1 322.9 399.2 322.3C406.4 321.7 419.1 321.8 428 320.6C436.9 319.4 445.4 316.5 452.6 315.1C459.9 313.7 465.4 313.6 471.5 312C477.7 310.5 483.9 307.4 489.6 305.9C495.4 304.3 502.6 303.4 506 302.6C509.4 301.8 505.3 302.4 510.1 300.9C515 299.5 527.2 296.6 535.2 293.8C543.2 291 549.2 287.3 558.2 284.2C567.3 281.2 582.3 277.3 589.5 275.4C596.7 273.6 595.9 274.2 601.4 273.4C607 272.5 615.7 271.2 622.9 270.2C630.2 269.3 637.2 268.6 644.9 267.5C652.5 266.5 661.6 265 668.9 264C676.1 262.9 682 262.5 688.3 261.2C694.6 260 701 258.2 706.5 256.7C711.9 255.1 716.9 253.2 721.1 252.1C725.3 250.9 726.3 250.8 731.5 250C736.7 249.1 745.2 247.4 752.4 246.8C759.6 246.3 767.3 247 774.9 246.8C782.6 246.6 791.1 245.4 798.3 245.6C805.5 245.7 811.9 246.7 818.2 247.7C824.4 248.6 828.7 251.3 835.9 251.4C843.2 251.5 857.3 248.8 861.6 248.3"/>
<path class="ln" stroke-dasharray="26.5 16.7" stroke-dashoffset="35.6" d="M174.3 352.1C179 351.7 194.5 350.9 202.1 350C209.6 349.2 212.7 348.3 219.5 346.9C226.4 345.6 237.2 343.2 243.2 341.8C249.1 340.4 250.7 340.4 255.5 338.7C260.3 337 267.1 334.1 271.9 331.5C276.7 329 279.8 326.7 284.2 323.3C288.7 319.9 293.1 316.1 298.6 311C304.1 305.9 312.6 297.8 317.1 292.5C321.5 287.2 321.2 285.5 325.3 279.2C329.4 272.8 337.3 261.4 341.7 254.5C346.2 247.7 348.2 244.2 352 238.1C355.8 231.9 358.9 227.1 364.3 217.5C369.8 208 379.4 189.8 384.9 180.6C390.3 171.3 393.4 166.2 397.2 162.1C401 158 404.4 158 407.5 155.9C410.5 153.9 412.2 152.3 415.7 149.8C419.1 147.2 421.8 143.9 428 140.5C434.2 137.1 445.4 130.8 452.6 129.2C459.9 127.7 464.3 130.9 471.5 131.3C478.7 131.6 489.3 131.4 495.8 131.3C502.2 131.1 507 130.9 510.1 130.5C513.3 130.1 510.2 129.4 514.8 128.9C519.3 128.3 530.1 128 537.3 127.2C544.6 126.4 551.2 125.1 558.2 124.1C565.2 123 571.9 122 579.1 120.9C586.3 119.9 593.8 118.7 601.4 117.8C609.1 116.9 617.8 116.2 625 115.3C632.3 114.3 637.6 113.1 644.9 112.2C652.2 111.2 661.6 110.3 668.9 109.4C676.1 108.6 681.3 108 688.3 106.9C695.3 105.9 703.4 104 710.6 103.2C717.8 102.3 727 101.7 731.5 101.7C736 101.7 735 103.6 737.8 103.2C740.6 102.8 742 100.2 748.2 99.4C754.4 98.7 766.9 98.3 774.9 98.6C783 98.9 789 100.1 796.2 101.1C803.5 102 812.3 103.8 818.2 104.2C824.1 104.7 828.1 104.3 831.7 103.8C835.4 103.3 836.6 101.7 840.1 101.1C843.6 100.5 849 99.9 852.6 100C856.2 100.2 860.1 101.8 861.6 102.1"/>
<path class="ln" d="M174.3 355.1C179 355.1 194.5 355.3 202.1 355.1C209.6 355 213.4 354.8 219.5 354.1C225.7 353.4 233.1 352.2 239 351C245 349.8 249 349.2 255.5 346.9C262 344.7 270.9 341.6 278.1 337.7C285.3 333.8 292.8 328.3 298.6 323.3C304.4 318.4 308.9 313.2 313 307.9C317.1 302.6 318.5 300.7 323.3 291.5C328 282.2 335.6 264.8 341.7 252.5C347.9 240.1 355.1 226.4 360.2 217.5C365.4 208.6 368.4 205.9 372.5 199.1C376.7 192.2 380.4 184 384.9 176.5C389.3 168.9 394.4 160.7 399.2 153.9C404 147 408.8 141.4 413.6 135.4C418.4 129.4 422.9 123.4 428 117.9C433.1 112.5 437.2 108 444.4 102.5C451.7 97.1 463.3 90 471.5 85.1C479.8 80.1 487.3 75.6 493.7 72.7C500.2 69.9 506.6 69.1 510.1 68C513.7 66.9 510.2 67.6 514.8 66.2C519.3 64.9 530.1 61.9 537.3 60C544.6 58 550.9 56 558.2 54.5C565.5 53 574 52.1 581.2 51C588.4 49.9 594.5 48.4 601.4 47.8C608.4 47.2 615.7 47.7 622.9 47.4C630.2 47.2 637.6 46.2 644.9 46.4C652.2 46.5 659.5 47.2 666.8 48.3C674 49.3 681 50.8 688.3 52.4C695.6 54 703.4 55.8 710.6 57.9C717.8 60 725.6 63.2 731.5 65C737.4 66.8 741.3 66.9 746.1 68.7C751 70.6 755.9 74 760.8 76C765.6 78 768.7 78.4 774.9 80.8C781.2 83.3 791.1 87.2 798.3 90.6C805.5 94.1 811.2 98.4 818.2 101.7C825.1 105 834.7 108.7 840.1 110.5C845.5 112.2 847 111.9 850.5 112.2C854.1 112.4 859.8 112.2 861.6 112.2"/>
</g>
<g transform="translate(0,1115.5)">
<path class="ay" d="M162.1 22.1H171.8V452.9"/>
<path class="ax" d="M162.1 443.5H865.5V452.9"/>
<path class="ax" d="M162.1 106.4H171.8M162.1 190.7H171.8M162.1 274.9H171.8M162.1 359.2H171.8M258.4 443.5V452.9M345.1 443.5V452.9M431.9 443.5V452.9M518.6 443.5V452.9M605.3 443.5V452.9M692 443.5V452.9M778.7 443.5V452.9"/>
<g class="tk" text-anchor="end">
<text transform="translate(144.7,32.5) scale(1,1.05)">0.500</text>
<text transform="translate(144.7,116.8) scale(1,1.05)">0.400</text>
<text transform="translate(144.7,201.1) scale(1,1.05)">0.300</text>
<text transform="translate(144.7,285.3) scale(1,1.05)">0.200</text>
<text transform="translate(144.7,369.6) scale(1,1.05)">0.100</text>
<text transform="translate(144.7,453.9) scale(1,1.05)">0.000</text>
</g>
<g class="tk" text-anchor="middle">
<text transform="translate(182.3,491.1) scale(1,1.045)">1</text>
<text transform="translate(254.5,491.1) scale(1,1.045)">6</text>
<text transform="translate(341.2,491.1) scale(1,1.045)">12</text>
<text transform="translate(427.9,491.1) scale(1,1.045)">18</text>
<text transform="translate(514.6,491.1) scale(1,1.045)">24</text>
<text transform="translate(601.3,491.1) scale(1,1.045)">30</text>
<text transform="translate(687.9,491.1) scale(1,1.045)">36</text>
<text transform="translate(774.6,491.1) scale(1,1.045)">42</text>
<text transform="translate(861.3,491.1) scale(1,1.045)">48</text>
</g>
<text class="tt" text-anchor="middle" transform="translate(519,532.9) scale(1,1.025)">Time (h)</text>
<text class="tt" text-anchor="middle" transform="translate(36.1,242.6) rotate(-90)">Absorbance</text>
<path class="eb" d="M298.2 300.2V324.4M295.6 300.2H300.8M295.6 324.4H300.8M341.5 219.1V243.3M338.9 219.1H344.1M338.9 243.3H344.1M384.9 152.9V171.4M382.3 152.9H387.5M382.3 171.4H387.5M428.2 103.2V124.8M425.6 103.2H430.8M425.6 124.8H430.8M471.5 64V96.5M468.9 64H474.1M468.9 96.5H474.1M514.9 58.4V63.4M512.3 58.4H517.5M512.3 63.4H517.5M558.2 49.6V54.6M555.6 49.6H560.8M555.6 54.6H560.8M601.6 42.1V52.5M599 42.1H604.2M599 52.5H604.2M644.9 35.4V49.6M642.3 35.4H647.5M642.3 49.6H647.5M688.2 33.3V46.9M685.6 33.3H690.8M685.6 46.9H690.8M731.6 33.3V49M729 33.3H734.2M729 49H734.2M774.9 37.5V55.2M772.3 37.5H777.5M772.3 55.2H777.5M818.3 46.3V64.6M815.7 46.3H820.9M815.7 64.6H820.9M861.6 52.5V70.9M859 52.5H864.2M859 70.9H864.2M254.8 332.7V344M252.2 332.7H257.4M252.2 344H257.4M341.5 243.3V259.7M338.9 243.3H344.1M338.9 259.7H344.1M384.9 158.1V179.2M382.3 158.1H387.5M382.3 179.2H387.5M428.2 107.8V129.3M425.6 107.8H430.8M425.6 129.3H430.8M514.9 82.8V105.8M512.3 82.8H517.5M512.3 105.8H517.5M558.2 88.7V117.9M555.6 88.7H560.8M555.6 117.9H560.8M601.6 89.1V120.4M599 89.1H604.2M599 120.4H604.2M644.9 86.6V119.4M642.3 86.6H647.5M642.3 119.4H647.5M688.2 81.4V114.8M685.6 81.4H690.8M685.6 114.8H690.8M731.6 76.1V110M729 76.1H734.2M729 110H734.2M774.9 70.9V103.7M772.3 70.9H777.5M772.3 103.7H777.5M818.3 64V96M815.7 64H820.9M815.7 96H820.9M861.6 66.1V84.5M859 66.1H864.2M859 84.5H864.2M341.5 318.3V321.6M338.9 318.3H344.1M338.9 321.6H344.1M428.2 297.7V301M425.6 297.7H430.8M425.6 301H430.8M471.5 285.4V290.6M468.9 285.4H474.1M468.9 290.6H474.1M558.2 254.7V258.8M555.6 254.7H560.8M555.6 258.8H560.8M644.9 231.7V235.9M642.3 231.7H647.5M642.3 235.9H647.5M688.2 221.3V225.4M685.6 221.3H690.8M685.6 225.4H690.8M731.6 211.9V219.2M729 211.9H734.2M729 219.2H734.2M774.9 210.8V219.6M772.3 210.8H777.5M772.3 219.6H777.5M818.3 211.2V220.2M815.7 211.2H820.9M815.7 220.2H820.9M861.6 205.6V216M859 205.6H864.2M859 216H864.2M254.8 342.9V347M252.2 342.9H257.4M252.2 347H257.4M298.2 331V334.3M295.6 331H300.8M295.6 334.3H300.8M384.9 302.9V314.2M382.3 302.9H387.5M382.3 314.2H387.5M428.2 281.7V288.5M425.6 281.7H430.8M425.6 288.5H430.8M471.5 269V278.2M468.9 269H474.1M468.9 278.2H474.1M514.9 259.9V274.1M512.3 259.9H517.5M512.3 274.1H517.5M558.2 252.2V264.1M555.6 252.2H560.8M555.6 264.1H560.8M601.6 244.2V258.8M599 244.2H604.2M599 258.8H604.2M644.9 232.7V250.5M642.3 232.7H647.5M642.3 250.5H647.5M688.2 226.5V244.9M685.6 226.5H690.8M685.6 244.9H690.8M731.6 211.9V242.1M729 211.9H734.2M729 242.1H734.2M774.9 225.8V246.3M772.3 225.8H777.5M772.3 246.3H777.5M818.3 226.1V246.3M815.7 226.1H820.9M815.7 246.3H820.9M861.6 230.7V249.4M859 230.7H864.2M859 249.4H864.2"/>
<path class="ln" stroke-dasharray="0.01 7.84" d="M173.3 357.3C178 357.2 193.5 357.2 201.1 356.9C208.6 356.5 209.6 357.1 218.5 355.2C227.5 353.4 241.6 349.3 254.9 346C268.1 342.8 283.5 340.1 298 335.7C312.5 331.4 327.2 324 341.8 319.9C356.3 315.8 370.9 314.5 385.3 311.1C399.7 307.7 414 303.4 428.4 299.4C442.8 295.4 459 291.6 471.8 287.1C484.5 282.6 498.8 274.4 505 272.4C511.2 270.4 507.5 275.7 509.1 275.2C510.8 274.6 510.5 271.1 515 269.3C519.6 267.4 529.1 266.1 536.3 264.1C543.5 262 550.9 258.8 558.2 256.8C565.6 254.7 573 253.3 580.2 251.5C587.4 249.8 594.2 248.1 601.5 246.3C608.8 244.6 616.8 243.2 624 241.1C631.3 239 637.9 236 644.9 233.8C651.9 231.6 658.6 229.7 665.8 227.9C673 226.2 680.8 224.9 688.1 223.3C695.4 221.8 702.4 220.2 709.6 218.7C716.9 217.3 725.6 215.9 731.6 214.6C737.5 213.2 740.1 211.2 745.1 210.8C750.2 210.5 756.9 211.7 761.8 212.5C766.8 213.3 768.9 216 774.8 215.6C780.7 215.3 790.1 210.6 797.3 210.4C804.6 210.2 811.3 213.8 818.2 214.6C825.2 215.3 831.9 215.6 839.1 215C846.3 214.4 857.7 211.5 861.4 210.8"/>
<path class="ln" stroke-dasharray="11.3 16.0" stroke-dashoffset="15" d="M173.3 356.3C178 356.2 193.5 356.2 201.1 355.9C208.6 355.5 209.6 356 218.5 354.2C227.5 352.4 241.6 348.6 254.9 345C268.1 341.4 287.8 335.7 298 332.7C308.2 329.6 308.8 329.1 316.1 326.5C323.4 323.9 333.5 319.8 341.8 317.3C350 314.7 358.1 313.1 365.4 311.1C372.6 309 379.8 307.2 385.3 304.9C390.8 302.7 393.3 300.5 398.2 297.7C403.1 295 409.6 290.6 414.7 288.5C419.7 286.4 423 287 428.4 285.4C433.9 283.9 440.3 281 447.5 279.3C454.8 277.5 463.6 277 471.8 275.2C480 273.3 491.3 269.3 496.8 268C502.4 266.6 502.9 267.5 505 267.2C507.1 266.9 507.5 266.1 509.1 265.9C510.8 265.7 511.2 266.8 515 266.1C518.9 265.5 524.9 263.4 532.1 262C539.3 260.6 549.9 259 558.2 257.8C566.6 256.6 575.1 255.8 582.3 254.7C589.5 253.5 595.9 251.6 601.5 250.9C607 250.2 610.2 251.4 615.7 250.5C621.2 249.5 629.6 246.7 634.5 245.3C639.3 243.8 640 242.8 644.9 241.7C649.8 240.7 656.5 240 663.7 239C670.9 238 682.6 236.4 688.1 235.9C693.7 235.3 691.8 236.4 697.1 235.9C702.4 235.3 714.3 234.3 720.1 232.7C725.8 231.2 727.4 226.6 731.6 226.5C735.7 226.3 741.8 230.5 745.1 231.7C748.4 232.9 746.5 233.1 751.4 233.8C756.3 234.5 766.4 235.3 774.8 235.9C783.1 236.4 794.3 236.7 801.5 236.9C808.8 237.1 813.3 236.7 818.2 236.9C823.1 237.2 825.2 238.1 830.7 238.4C836.3 238.6 846.5 238.2 851.6 238.4C856.7 238.6 859.8 239.4 861.4 239.6"/>
<path class="ln" stroke-dasharray="26.5 16.7" stroke-dashoffset="32" d="M173.3 353.2C178 352.7 193.5 351.3 201.1 350.1C208.6 348.9 211.7 347.7 218.5 346C225.4 344.3 236.1 341.6 242.2 339.8C248.2 338.1 250.1 337.4 254.9 335.7C259.7 334 266.2 331.8 270.9 329.6C275.6 327.4 278.7 325.8 283.2 322.4C287.7 319 292.5 314.9 298 309C303.5 303.2 311.7 292.8 316.1 287.5C320.5 282.2 320 284.6 324.3 277.2C328.6 269.8 337 252.2 341.8 243.3C346.6 234.4 348.8 231.2 353.1 223.8C357.3 216.4 362.1 208.9 367.4 199.2C372.8 189.4 380.2 174.5 385.3 165.3C390.4 156 391.1 151.9 398.2 143.7C405.4 135.5 420.2 123.5 428.4 116C436.6 108.4 440.3 104.5 447.5 98.5C454.8 92.5 464.9 82.3 471.8 80C478.6 77.8 483.1 83.3 488.6 85.2C494.1 87.1 501.6 90 505 91.4C508.4 92.7 507.5 92.9 509.1 93.4C510.8 93.9 512.2 93.5 515 94.3C517.8 95.1 521.3 96.7 525.9 98.1C530.5 99.4 537.2 101.8 542.6 102.6C548 103.5 553 102.9 558.2 103.3C563.5 103.6 568.9 104.4 573.9 104.7C579 105.1 583.9 105.4 588.5 105.4C593.1 105.4 596.9 105 601.5 104.7C606 104.5 610.9 103.9 615.7 103.9C620.5 103.9 625.4 105.2 630.3 104.9C635.2 104.7 640 103.3 644.9 102.6C649.8 102 654 101.8 659.5 101.2C665.1 100.6 673.5 99.6 678.3 99.1C683.1 98.6 684 98.5 688.1 98.1C692.3 97.6 698 97 703.4 96.4C708.7 95.8 715.4 94.9 720.1 94.3C724.8 93.7 727.4 93.4 731.6 92.8C735.7 92.3 739.4 91.9 745.1 91.2C750.9 90.4 761.1 89 766 88.2C771 87.5 771 87.2 774.8 86.6C778.6 85.9 783.5 85.4 789 84.5C794.5 83.6 802.9 82 807.8 81.4C812.6 80.7 814 80.8 818.2 80.3C822.4 79.8 827.3 79 832.8 78.2C838.4 77.4 846.9 76 851.6 75.5C856.4 75 859.8 75.2 861.4 75.1"/>
<path class="ln" d="M173.3 355.2C178 355.1 193.5 354.9 201.1 354.2C208.6 353.5 212.4 352.3 218.5 351.1C224.7 349.9 232 348.5 238 347C244.1 345.6 248.4 344.9 254.9 342.5C261.4 340.1 269.9 337.7 277.1 332.7C284.3 327.6 292.2 319 298 312.1C303.8 305.3 307.6 298.1 312 291.6C316.4 285.1 319.3 282.7 324.3 273.1C329.3 263.5 337 244.3 341.8 234.1C346.6 223.8 348.8 219.2 353.1 211.5C357.3 203.8 362.1 196.1 367.4 187.9C372.8 179.6 378.8 170.6 385.3 162.2C391.8 153.8 399.3 145.4 406.5 137.5C413.6 129.7 421.6 121.6 428.4 115C435.3 108.3 440.3 103.5 447.5 97.5C454.8 91.5 464.2 84 471.8 79C479.3 74 487.2 70.2 492.7 67.7C498.3 65.3 502.3 65.1 505 64.2C507.7 63.4 507.5 63.1 509.1 62.6C510.8 62 511.2 61.9 515 60.9C518.9 59.8 524.9 57.8 532.1 56.3C539.3 54.8 550.2 53.1 558.2 52.1C566.3 51.1 573 51.3 580.2 50.4C587.4 49.6 594.2 47.7 601.5 46.9C608.8 46.1 616.8 46.2 624 45.4C631.3 44.6 637.9 43 644.9 42.1C651.9 41.2 658.6 40.4 665.8 40C673 39.6 680.8 39.7 688.1 39.6C695.4 39.4 702.4 39 709.6 39.2C716.9 39.3 724.3 39.9 731.6 40.6C738.9 41.3 746.3 42.4 753.5 43.3C760.7 44.3 767.5 45 774.8 46.3C782.1 47.6 790.1 49.3 797.3 51.1C804.6 52.8 810.6 55 818.2 56.7C825.9 58.5 836.1 60.6 843.3 61.5C850.5 62.4 858.4 62 861.4 62.1"/>
</g>
<text class="pl" transform="translate(15.2,26.2) scale(1,1.035)">A</text>
<text class="pl" transform="translate(915.7,25.9) scale(1,1.035)">B</text>
<text class="pl" transform="translate(15.8,545.9) scale(1,1.035)">C</text>
<text class="pl" transform="translate(916,546) scale(1,1.035)">D</text>
<text class="pl" transform="translate(15.3,1106) scale(1,1.035)">E</text>
<g>
<path class="lg" d="M1316.3 1322.5H1344.7"/>
<text class="lt" x="1348.2" y="1334.2" transform="translate(1348.2 0) scale(0.99 1) translate(-1348.2 0)">P+ Al-</text>
<path class="lg" d="M1316.3 1373.2H1334.8"/>
<text class="lt" x="1348.2" y="1385.6" transform="translate(1348.2 0) scale(0.99 1) translate(-1348.2 0)">P+ Al+</text>
<path class="lg" stroke-linecap="round" stroke-dasharray="0.01 5.56" d="M1315.9 1425.6H1345"/>
<text class="lt" x="1348.2" y="1437.4" transform="translate(1348.2 0) scale(0.99 1) translate(-1348.2 0)">P- Al-</text>
<path class="lg" d="M1316.3 1477.1H1323.9M1335.3 1477.1H1342.9"/>
<text class="lt" x="1348.2" y="1488.8" transform="translate(1348.2 0) scale(0.99 1) translate(-1348.2 0)">P- Al+</text>
</g>
</svg></body></html>
